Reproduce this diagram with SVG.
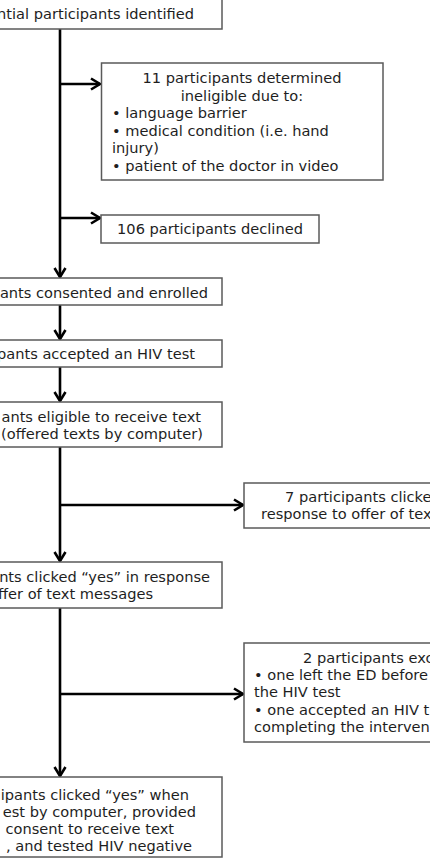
<svg xmlns="http://www.w3.org/2000/svg" width="430" height="860" viewBox="0 0 430 860">
<defs>
<marker id="arr" markerUnits="userSpaceOnUse" markerWidth="14" markerHeight="14" refX="10" refY="6" orient="auto" overflow="visible">
<path d="M1,0.5 L10,6 L1,11.5" fill="none" stroke="#000" stroke-width="2.6"/>
</marker>
<style>
.box{fill:#fff;stroke:#5a5a5a;stroke-width:1.5}
.t{font-family:"DejaVu Sans",Verdana,sans-serif;font-size:14.6px;fill:#1e1e1e}
.e{text-anchor:end}
.m{text-anchor:middle}
.c{stroke:#000;stroke-width:2.6;fill:none;marker-end:url(#arr)}
</style>
</defs>
<rect width="430" height="860" fill="#fff"/>
<g id="connectors">
<path class="c" d="M60 29 V277"/>
<path class="c" d="M60 84 H100"/>
<path class="c" d="M60 218 H100"/>
<path class="c" d="M60 305 V339"/>
<path class="c" d="M60 367 V401"/>
<path class="c" d="M60 447 V561"/>
<path class="c" d="M60 505 H243"/>
<path class="c" d="M60 608 V776"/>
<path class="c" d="M60 694 H243"/>
</g>
<g id="n1"><rect class="box" x="-20" y="-1" width="242" height="30"/><text class="t e" x="194" y="19">ntial participants identified</text></g>
<g id="n2"><rect class="box" x="101.5" y="63" width="281.5" height="117"/>
<text class="t m" x="242" y="83">11 participants determined</text>
<text class="t m" x="242" y="101">ineligible due to:</text>
<text class="t" x="112" y="118">• language barrier</text>
<text class="t" x="112" y="136">• medical condition (i.e. hand</text>
<text class="t" x="112" y="153">injury)</text>
<text class="t" x="112" y="171">• patient of the doctor in video</text></g>
<g id="n3"><rect class="box" x="101" y="215" width="218" height="28"/><text class="t m" x="210" y="234">106 participants declined</text></g>
<g id="n4"><rect class="box" x="-20" y="278" width="242" height="27"/><text class="t e" x="208" y="298">ants consented and enrolled</text></g>
<g id="n5"><rect class="box" x="-20" y="340" width="242" height="27"/><text class="t e" x="195" y="359">pants accepted an HIV test</text></g>
<g id="n6"><rect class="box" x="-20" y="402" width="242" height="45"/>
<text class="t e" x="201" y="422">ants eligible to receive text</text>
<text class="t e" x="203" y="439">(offered texts by computer)</text></g>
<g id="n7"><rect class="box" x="244" y="483" width="200" height="45"/>
<text class="t" x="285" y="502">7 participants clicke</text>
<text class="t" x="261" y="519">response to offer of tex</text></g>
<g id="n8"><rect class="box" x="-20" y="562" width="242" height="46"/>
<text class="t e" x="210" y="582">nts clicked “yes” in response</text>
<text class="t e" x="153" y="599">ffer of text messages</text></g>
<g id="n9"><rect class="box" x="244" y="643" width="200" height="99"/>
<text class="t" x="303" y="663">2 participants exc</text>
<text class="t" x="254" y="680">• one left the ED before</text>
<text class="t" x="254" y="697">the HIV test</text>
<text class="t" x="254" y="715">• one accepted an HIV t</text>
<text class="t" x="254" y="732">completing the interven</text></g>
<g id="n10"><rect class="box" x="-20" y="777" width="242" height="80"/>
<text class="t e" x="189" y="800">ipants clicked “yes” when</text>
<text class="t e" x="196" y="817">est by computer, provided</text>
<text class="t e" x="174" y="834">consent to receive text</text>
<text class="t e" x="192" y="851">, and tested HIV negative</text></g>
</svg>
